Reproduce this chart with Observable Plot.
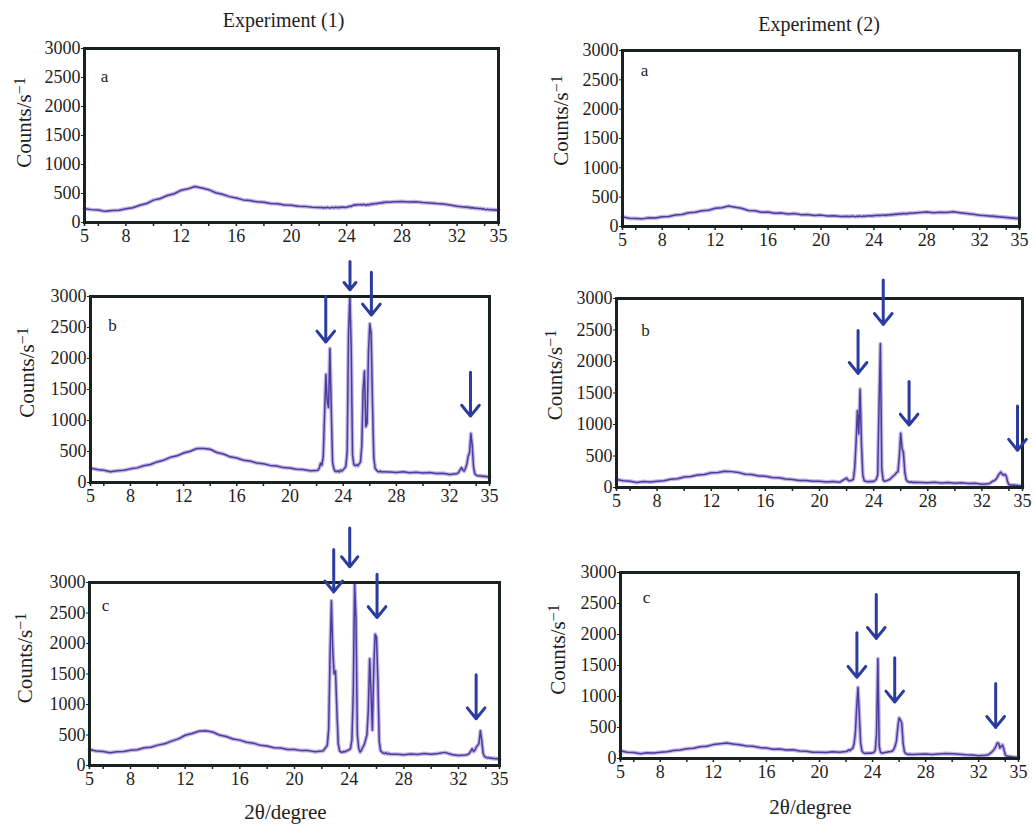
<!DOCTYPE html>
<html><head><meta charset="utf-8">
<script src="https://cdn.jsdelivr.net/npm/d3@7"></script>
<script src="https://cdn.jsdelivr.net/npm/@observablehq/plot@0.6"></script>
<style>
html,body{margin:0;padding:0;background:#fff;overflow:hidden;}
#fig{position:relative;width:1034px;height:827px;overflow:hidden;}
#fig > svg{position:absolute;}
#fig text{font-family:'Liberation Serif','Times New Roman',serif;}
</style></head><body><div id="fig"></div>
<script>
// ---- shared sampling of 2θ (degree) ----
const twoTheta = [
 5,5.5,6,6.5,7,7.5,8,8.5,9,9.5,10,10.5,11,11.5,12,12.5,13,13.5,14,14.5,15,15.5,16,16.5,17,17.5,18,18.5,19,19.5,20,20.5,21,21.5,22,
 22.1,22.2,22.3,22.4,22.5,22.6,22.7,22.8,22.9,23,23.1,23.2,23.3,23.4,23.5,23.6,23.7,23.8,23.9,24,24.1,24.2,24.3,24.4,24.5,24.6,24.7,24.8,24.9,25,25.1,25.2,25.3,25.4,25.5,25.6,25.7,25.8,25.9,26,26.1,26.2,26.3,26.4,26.5,26.6,26.7,26.8,26.9,27,
 27.5,28,28.5,29,29.5,30,30.5,31,31.5,32,32.5,
 32.6,32.7,32.8,32.9,33,33.1,33.2,33.3,33.4,33.5,33.6,33.7,33.8,33.9,34,34.1,34.2,34.3,34.4,34.5,34.6,34.7,34.8,34.9,35
];

// ---- counts per panel ----
const exp1a = [
 238,222,214,192,206,212,236,255,296,328,386,414,466,496,556,580,622,596,566,514,486,446,424,390,378,356,348,326,322,300,298,280,278,262,260,
 255,262,250,258,252,264,256,250,262,258, 252,266,256,262,254,268,260,266,258,264, 272,280,276,290,298,306,298,312,304,310, 300,314,306,296,310,302,318,310,326,318, 330,324,336,330,344,336,352,344,356,350,
 358,364,352,358,346,338,326,318,300,280,268,
 262,270,258,264,250,258,246,252,240,248, 236,244,232,238,226,220,230,218,226,214, 222,212,220,210,218
];
const exp1b = [
 232,210,198,172,190,196,220,236,270,290,332,360,406,430,476,504,548,550,536,484,460,414,396,360,346,314,304,276,266,240,234,212,208,190,192,
 200,230,310,280,420,1100,1740,1300,1210,2160, 1200,330,220,180,175,190,170,200,185,205, 230,260,500,2400,3000,2200,450,290,270,285, 270,300,330,600,1500,1800,900,960,2100,2560, 2400,1300,400,230,200,180,170,185,168,175,
 170,160,172,158,166,152,160,146,150,128,140,
 150,170,210,240,200,185,230,300,430,480, 790,600,250,140,118,110,104,112,98,106, 94,102,90,96,92
];
const exp1c = [
 262,236,228,210,224,228,250,258,290,300,334,356,400,436,496,524,562,570,550,500,476,434,416,380,366,330,318,290,286,262,262,244,244,226,236,
 240,270,300,330,600,1800,2700,1900,1500,1550, 900,360,240,220,215,230,225,240,245,260, 280,420,1200,2980,2400,500,280,220,250,300, 340,420,500,900,1750,1200,580,1600,2150,2100, 1400,400,240,220,200,195,210,188,200,185,
 185,178,190,182,195,185,196,215,180,165,172,
 175,185,200,240,275,230,250,300,330,360, 570,420,200,150,135,125,130,118,124,112, 120,108,115,104,110
];
const exp2a = [
 164,140,136,130,150,146,166,170,196,204,234,242,270,276,310,318,348,330,310,274,268,244,246,226,230,214,220,202,206,188,194,178,184,170,176,
 168,176,170,178,172,168,176,170,180,174, 170,178,172,182,176,186,178,184,180,190, 184,194,186,192,186,198,190,196,188,200, 194,204,196,208,200,212,204,216,208,220, 212,224,216,222,214,228,220,232,224,232,
 238,246,236,244,240,250,236,222,210,190,182,
 184,176,182,172,178,168,174,164,170,160, 166,156,162,152,158,148,154,144,150,140, 146,136,142,132,136
];
const exp2b = [
 126,106,98,80,94,88,100,106,130,138,166,174,200,206,234,238,258,252,240,210,206,184,180,158,154,134,128,110,112,98,100,88,94,84,150,
 120,105,110,115,130,300,700,1220,850,1560, 700,200,110,100,95,90,100,92,98,96, 110,130,200,1300,2280,300,120,100,105,110, 120,130,150,170,190,210,240,250,500,860, 620,560,250,130,96,90,84,88,80,84,
 80,76,82,72,78,68,74,62,68,50,60,
 70,85,100,110,120,150,190,220,245,215, 195,210,180,90,45,40,38,35,40,30, 35,25,30,20,22
];
const exp2c = [
 124,102,96,78,92,88,102,108,130,136,158,166,190,196,224,236,250,234,222,200,196,176,168,150,152,138,140,120,118,100,102,96,108,102,112,
 120,140,125,150,164,230,400,820,1145,700, 250,120,95,85,82,88,84,90,86,92, 100,130,400,1610,200,100,85,90,95,100, 102,108,110,115,120,150,200,280,500,655, 620,573,250,110,80,72,66,70,64,66,
 68,72,66,74,80,76,70,62,58,44,52,
 55,60,70,90,109,130,160,200,250,245, 170,200,218,150,60,40,35,28,32,24, 26,18,22,14,12
];

// ---- peak arrows (2θ, start count, end count) ----
const arrows1bX = [22.69, 24.51, 26.12, 33.57];
const arrows1bFrom = [3000, 3565, 3391, 1777];
const arrows1bTo = [2266, 3108, 2701, 1071];
const arrows1cX = [22.87, 24.04, 26.04, 33.29];
const arrows1cFrom = [3541, 3892, 3136, 1489];
const arrows1cTo = [2846, 3257, 2425, 766];
const arrows2bX = [22.85, 24.71, 26.62, 34.63];
const arrows2bFrom = [2493, 3292, 1683, 1295];
const arrows2bTo = [1811, 2589, 991, 591];
const arrows2cX = [22.82, 24.28, 25.67, 33.28];
const arrows2cFrom = [2029, 2646, 1626, 1211];
const arrows2cTo = [1309, 1937, 911, 502];

// ---- ticks and labels ----
const yTicks = [0, 500, 1000, 1500, 2000, 2500, 3000];
const xTickMarks = [5, 6, 8, 10, 12, 14, 16, 18, 20, 22, 24, 26, 28, 30, 32, 34, 35];
const xTickLabels = [5, 8, 12, 16, 20, 24, 28, 32, 35];
const yLabelBase = "Counts/s";
const yLabelSup = "−1";
const xLabel = "2θ/degree";
const titles = ["Experiment (1)", "Experiment (2)"];
const letters = ["a", "b", "c"];

// ---- layout (pixel frames and label offsets) ----
const panels = [
 {y: exp1a, L:84, R:498, T:48, B:222, title:titles[0], tdx:-8, tdy:-28, letter:letters[0], ldx:20, ldy:28, ydx:-60, ydy:-13},
 {y: exp1b, L:90, R:489, T:296, B:482, letter:letters[1], ldx:22, ldy:29, ydx:-63, ydy:-17,
   arrows:{x:arrows1bX, from:arrows1bFrom, to:arrows1bTo}},
 {y: exp1c, L:89, R:499, T:582, B:765, letter:letters[2], ldx:16, ldy:23, ydx:-64, ydy:-16,
   arrows:{x:arrows1cX, from:arrows1cFrom, to:arrows1cTo}, xl:true, xdx:-9, xdy:47},
 {y: exp2a, L:622, R:1019, T:50, B:226, title:titles[1], tdx:-2, tdy:-26, letter:letters[0], ldx:22, ldy:20, ydx:-61, ydy:-18},
 {y: exp2b, L:616, R:1022, T:298, B:487, letter:letters[1], ldx:29, ldy:32, ydx:-61, ydy:-18,
   arrows:{x:arrows2bX, from:arrows2bFrom, to:arrows2bTo}},
 {y: exp2c, L:620, R:1018, T:572, B:758, letter:letters[2], ldx:26, ldy:25, ydx:-62, ydy:-16,
   arrows:{x:arrows2cX, from:arrows2cFrom, to:arrows2cTo}, xl:true, xdx:-9, xdy:49}
];

const fig = document.getElementById("fig");
const mL = 80, mR = 10, mT = 60, mB = 60;
const font = "Liberation Serif";
const yLabelFull = yLabelBase + yLabelSup;

for (const p of panels) {
  const rows = twoTheta.map((t, i) => ({t, c: p.y[i]}));
  const marks = [
    Plot.line(rows, {x: "t", y: "c", stroke: "#b7a9de", strokeWidth: 4, strokeOpacity: 0.85}),
    Plot.line(rows, {x: "t", y: "c", stroke: "#4e3b9e", strokeWidth: 1.5}),
    Plot.frame({stroke: "#18221e", strokeWidth: 3}),
    Plot.axisY(yTicks, {tickSize: 3, tickPadding: 1, label: null, fontSize: 18, fontFamily: font, stroke: "#18221e", tickFormat: d => String(d)}),
    Plot.axisX(xTickMarks, {tickSize: 4, tickFormat: () => "", label: null, stroke: "#18221e", strokeWidth: 1.5}),
    Plot.axisX(xTickLabels, {tickSize: 0, tickPadding: 7, label: null, fontSize: 18, fontFamily: font, tickFormat: d => String(d)}),
    Plot.text([yLabelFull], {frameAnchor: "left", rotate: -90, textAnchor: "middle", lineAnchor: "middle", dx: p.ydx, dy: p.ydy, fontSize: 21, fontFamily: font}),
    Plot.text([p.letter], {frameAnchor: "top-left", textAnchor: "middle", lineAnchor: "middle", dx: p.ldx, dy: p.ldy, fontSize: 17, fontFamily: font})
  ];
  if (p.title) marks.push(Plot.text([p.title], {frameAnchor: "top", textAnchor: "middle", lineAnchor: "middle", dx: p.tdx, dy: p.tdy, fontSize: 20, fontFamily: font}));
  if (p.xl) marks.push(Plot.text([xLabel], {frameAnchor: "bottom", textAnchor: "middle", lineAnchor: "middle", dx: p.xdx, dy: p.xdy, fontSize: 21, fontFamily: font}));
  if (p.arrows) {
    const a = p.arrows;
    const arr = a.x.map((x, i) => ({x, y1: a.from[i], y2: a.to[i]}));
    marks.push(Plot.arrow(arr, {x1: "x", x2: "x", y1: "y1", y2: "y2", stroke: "#2b3c9f", strokeWidth: 3, headAngle: 78, headLength: 7}));
  }
  const svg = Plot.plot({
    width: p.R - p.L + mL + mR,
    height: p.B - p.T + mT + mB,
    marginLeft: mL, marginRight: mR, marginTop: mT, marginBottom: mB,
    x: {domain: [5, 35], label: null},
    y: {domain: [0, 3000], label: null},
    style: {fontFamily: font, fontSize: "18px", color: "#1e1e1e", background: "transparent", overflow: "visible"},
    marks
  });
  // render the unit's exponent as a real superscript
  svg.querySelectorAll("text").forEach(t => {
    if (t.textContent === yLabelFull) {
      t.textContent = yLabelBase;
      const sup = document.createElementNS("http://www.w3.org/2000/svg", "tspan");
      sup.setAttribute("dy", "-0.42em");
      sup.setAttribute("font-size", "16");
      sup.textContent = yLabelSup;
      t.appendChild(sup);
    }
  });
  svg.style.left = (p.L - mL) + "px";
  svg.style.top = (p.T - mT) + "px";
  svg.style.maxWidth = "none";
  fig.append(svg);
}
</script>
</body></html>
